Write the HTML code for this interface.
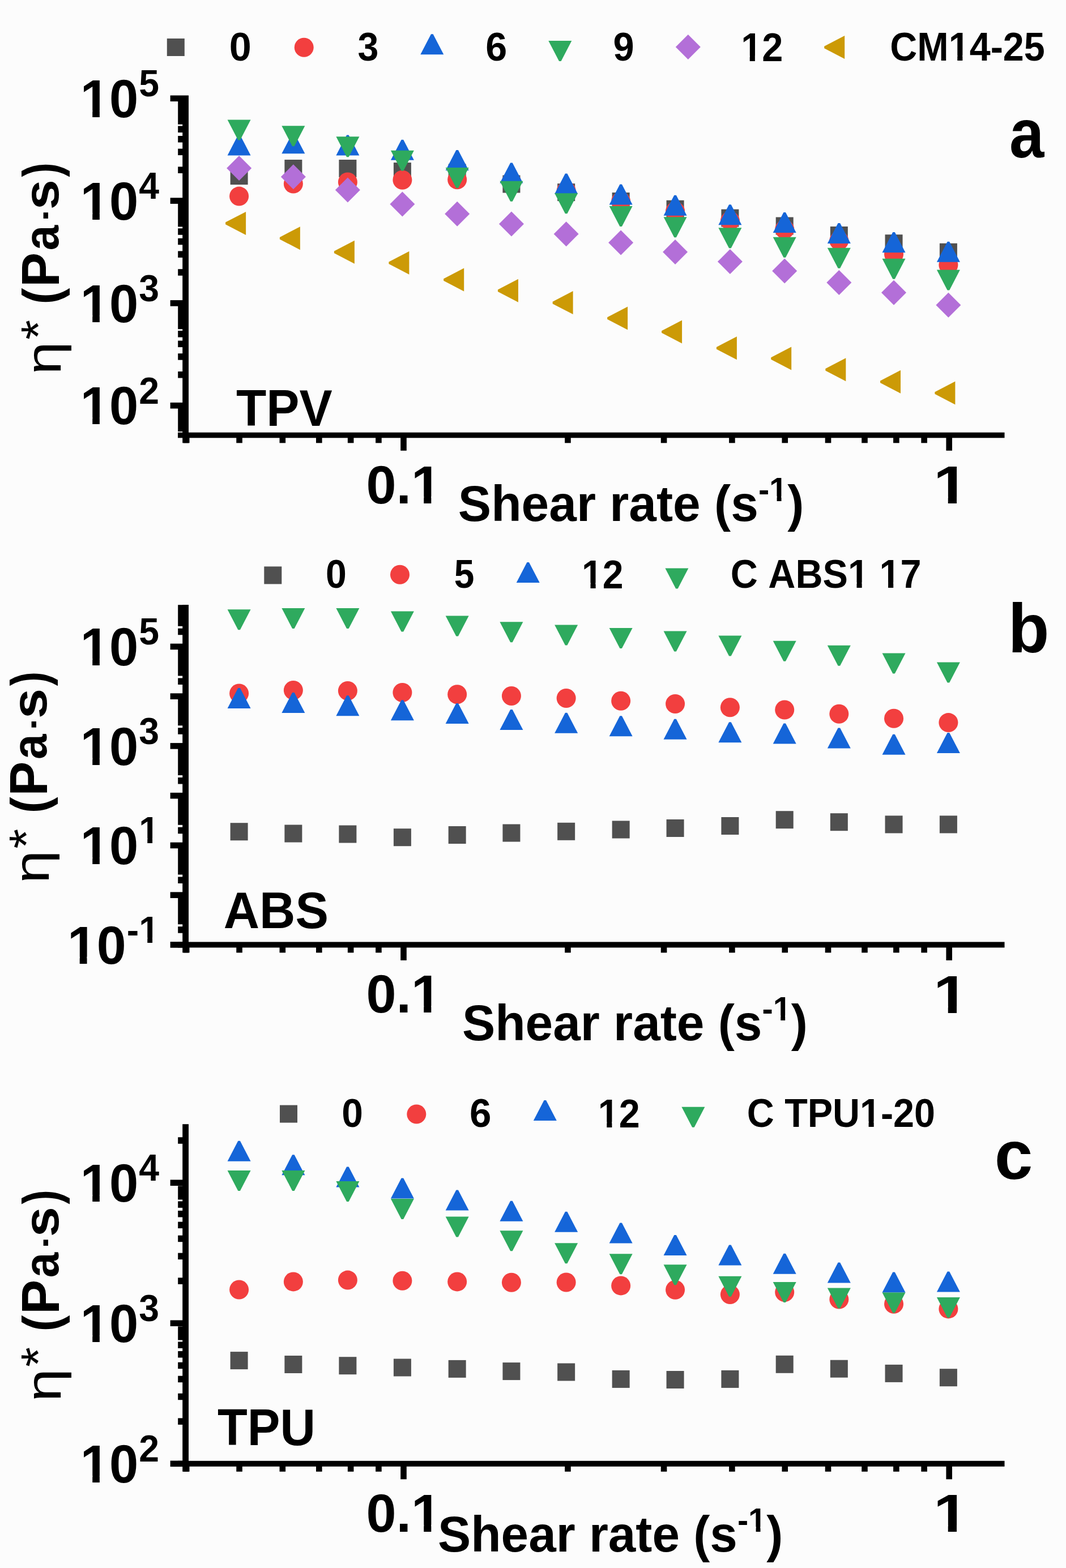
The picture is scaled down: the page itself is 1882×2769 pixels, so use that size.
<!DOCTYPE html>
<html><head><meta charset="utf-8"><title>Complex viscosity vs shear rate</title>
<style>
html,body{margin:0;padding:0;background:#fcfcfc;}
svg{display:block;}
text{font-family:"Liberation Sans",Arial,sans-serif;fill:#000;font-kerning:none;}
</style></head><body>
<svg width="1882" height="2769" viewBox="0 0 1882 2769">
<rect width="1882" height="2769" fill="#fcfcfc"/>
<rect x="294.80" y="68.00" width="31.00" height="31.00" fill="#505050"/>
<g transform="translate(404.82,107.32) scale(1.0105,1)"><text font-size="69.50" font-weight="bold">0</text></g>
<circle cx="536.70" cy="83.70" r="17" fill="#f23f3f"/>
<g transform="translate(631.48,107.22) scale(0.9552,1)"><text font-size="69.50" font-weight="bold">3</text></g>
<polygon points="761.00,60.30 764.60,60.30 783.30,96.30 742.30,96.30" fill="#1565d8"/>
<g transform="translate(857.20,107.32) scale(0.9823,1)"><text font-size="69.50" font-weight="bold">6</text></g>
<polygon points="990.60,108.00 987.00,108.00 968.30,72.00 1009.30,72.00" fill="#2eaa5e"/>
<g transform="translate(1082.59,107.32) scale(0.9595,1)"><text font-size="69.50" font-weight="bold">9</text></g>
<polygon points="1214.80,61.10 1236.80,83.10 1214.80,105.10 1192.80,83.10" fill="#b36fd8"/>
<g transform="translate(1308.14,108.00) scale(0.9603,1)"><text font-size="69.50" font-weight="bold">12</text><rect x="2.88" y="-9.59" width="13.34" height="11.09" fill="#fcfcfc"/><rect x="25.76" y="-9.59" width="12.46" height="11.09" fill="#fcfcfc"/></g>
<polygon points="1455.20,85.30 1455.20,81.70 1491.20,63.00 1491.20,104.00" fill="#cc9a06"/>
<g transform="translate(1571.27,107.32) scale(0.9571,1)"><text font-size="69.50" font-weight="bold">CM14-25</text><rect x="110.96" y="-9.59" width="13.34" height="11.09" fill="#fcfcfc"/><rect x="133.84" y="-9.59" width="12.46" height="11.09" fill="#fcfcfc"/></g>
<rect x="322.20" y="169.40" width="10.80" height="612.90" fill="#000"/>
<rect x="314.00" y="763.70" width="1459.50" height="9.60" fill="#000"/>
<rect x="300.60" y="710.90" width="32.40" height="10.60" fill="#000"/>
<rect x="300.60" y="530.10" width="32.40" height="10.60" fill="#000"/>
<rect x="300.60" y="349.30" width="32.40" height="10.60" fill="#000"/>
<rect x="300.60" y="168.50" width="32.40" height="10.60" fill="#000"/>
<rect x="314.20" y="176.32" width="18.80" height="43.34" fill="#000"/>
<rect x="314.20" y="222.48" width="18.80" height="11.50" fill="#000"/>
<rect x="314.20" y="240.00" width="18.80" height="11.50" fill="#000"/>
<rect x="314.20" y="262.59" width="18.80" height="11.50" fill="#000"/>
<rect x="314.20" y="294.42" width="18.80" height="11.50" fill="#000"/>
<rect x="314.20" y="357.12" width="18.80" height="43.34" fill="#000"/>
<rect x="314.20" y="403.28" width="18.80" height="11.50" fill="#000"/>
<rect x="314.20" y="420.80" width="18.80" height="11.50" fill="#000"/>
<rect x="314.20" y="443.39" width="18.80" height="11.50" fill="#000"/>
<rect x="314.20" y="475.22" width="18.80" height="11.50" fill="#000"/>
<rect x="314.20" y="537.92" width="18.80" height="43.34" fill="#000"/>
<rect x="314.20" y="584.08" width="18.80" height="11.50" fill="#000"/>
<rect x="314.20" y="601.60" width="18.80" height="11.50" fill="#000"/>
<rect x="314.20" y="624.19" width="18.80" height="11.50" fill="#000"/>
<rect x="314.20" y="656.02" width="18.80" height="11.50" fill="#000"/>
<rect x="314.20" y="718.72" width="18.80" height="43.34" fill="#000"/>
<rect x="323.90" y="772.30" width="10.60" height="10.00" fill="#000"/>
<rect x="417.25" y="772.30" width="10.60" height="10.00" fill="#000"/>
<rect x="493.52" y="772.30" width="10.60" height="10.00" fill="#000"/>
<rect x="558.00" y="772.30" width="10.60" height="10.00" fill="#000"/>
<rect x="613.86" y="772.30" width="10.60" height="10.00" fill="#000"/>
<rect x="663.13" y="772.30" width="10.60" height="10.00" fill="#000"/>
<rect x="997.15" y="772.30" width="10.60" height="10.00" fill="#000"/>
<rect x="1166.76" y="772.30" width="10.60" height="10.00" fill="#000"/>
<rect x="1287.10" y="772.30" width="10.60" height="10.00" fill="#000"/>
<rect x="1380.45" y="772.30" width="10.60" height="10.00" fill="#000"/>
<rect x="1456.72" y="772.30" width="10.60" height="10.00" fill="#000"/>
<rect x="1521.20" y="772.30" width="10.60" height="10.00" fill="#000"/>
<rect x="1577.06" y="772.30" width="10.60" height="10.00" fill="#000"/>
<rect x="1626.33" y="772.30" width="10.60" height="10.00" fill="#000"/>
<rect x="707.20" y="772.30" width="10.60" height="23.50" fill="#000"/>
<rect x="1670.40" y="772.30" width="10.60" height="23.50" fill="#000"/>
<g transform="translate(141.70,207.08) scale(0.9760,1)"><text font-size="94.50" font-weight="bold">10</text><rect x="4.45" y="-12.14" width="17.60" height="13.64" fill="#fcfcfc"/><rect x="35.02" y="-12.14" width="16.40" height="13.64" fill="#fcfcfc"/></g>
<g transform="translate(245.24,170.20) scale(0.9670,1)"><text font-size="66.50" font-weight="bold">5</text></g>
<g transform="translate(141.70,387.88) scale(0.9760,1)"><text font-size="94.50" font-weight="bold">10</text><rect x="4.45" y="-12.14" width="17.60" height="13.64" fill="#fcfcfc"/><rect x="35.02" y="-12.14" width="16.40" height="13.64" fill="#fcfcfc"/></g>
<g transform="translate(245.24,351.00) scale(0.9670,1)"><text font-size="66.50" font-weight="bold">4</text></g>
<g transform="translate(141.70,568.68) scale(0.9760,1)"><text font-size="94.50" font-weight="bold">10</text><rect x="4.45" y="-12.14" width="17.60" height="13.64" fill="#fcfcfc"/><rect x="35.02" y="-12.14" width="16.40" height="13.64" fill="#fcfcfc"/></g>
<g transform="translate(245.24,531.80) scale(0.9670,1)"><text font-size="66.50" font-weight="bold">3</text></g>
<g transform="translate(141.70,749.48) scale(0.9760,1)"><text font-size="94.50" font-weight="bold">10</text><rect x="4.45" y="-12.14" width="17.60" height="13.64" fill="#fcfcfc"/><rect x="35.02" y="-12.14" width="16.40" height="13.64" fill="#fcfcfc"/></g>
<g transform="translate(245.24,712.60) scale(0.9670,1)"><text font-size="66.50" font-weight="bold">2</text></g>
<text transform="translate(104.14,312.57) rotate(-90) scale(0.8423,1)" font-size="90.87" font-weight="bold">)</text>
<text transform="translate(103.15,370.35) rotate(-90) scale(1.1015,1)" font-size="86.63" font-weight="bold">s</text>
<text transform="translate(101.93,399.23) rotate(-90) scale(1.4544,1)" font-size="77.27" font-weight="normal">·</text>
<text transform="translate(103.15,442.35) rotate(-90) scale(0.9236,1)" font-size="86.70" font-weight="bold">a</text>
<text transform="translate(104.00,506.70) rotate(-90) scale(0.9592,1)" font-size="95.06" font-weight="bold">P</text>
<text transform="translate(104.21,537.61) rotate(-90) scale(0.9548,1)" font-size="90.55" font-weight="bold">(</text>
<text transform="translate(97.39,600.06) rotate(-90) scale(1.0575,1)" font-size="85.45" font-weight="normal">*</text>
<text transform="translate(107.65,661.42) rotate(-90) scale(1.1871,1)" font-size="88.17" font-weight="normal">η</text>
<g transform="translate(417.02,752.00) scale(0.9688,1)"><text font-size="90.00" font-weight="bold">TPV</text></g>
<g transform="translate(1781.97,278.41) scale(0.9039,1)"><text font-size="122.00" font-weight="bold">a</text></g>
<g transform="translate(646.43,888.78) scale(1.0091,1)"><text font-size="94.50" font-weight="bold">0.1</text><rect x="83.26" y="-12.14" width="17.60" height="13.64" fill="#fcfcfc"/><rect x="113.83" y="-12.14" width="16.40" height="13.64" fill="#fcfcfc"/></g>
<g transform="translate(1647.92,889.20) scale(1.1729,1)"><text font-size="94.50" font-weight="bold">1</text><rect x="4.45" y="-12.14" width="17.60" height="13.64" fill="#fcfcfc"/><rect x="35.02" y="-12.14" width="16.40" height="13.64" fill="#fcfcfc"/></g>
<g transform="translate(808.78,920.13) scale(0.9831,1)" font-weight="bold"><text font-size="89">Shear rate (s</text><text x="539.21" y="-35.60" font-size="58.74">-1</text><rect x="560.98" y="-44.09" width="11.51" height="9.99" fill="#fcfcfc"/><rect x="580.55" y="-44.09" width="10.76" height="9.99" fill="#fcfcfc"/><text x="591.44" font-size="89">)</text></g>
<rect x="406.60" y="295.10" width="31.00" height="31.00" fill="#505050"/>
<rect x="502.37" y="282.00" width="31.00" height="31.00" fill="#505050"/>
<rect x="598.38" y="282.00" width="31.00" height="31.00" fill="#505050"/>
<rect x="694.90" y="287.10" width="31.00" height="31.00" fill="#505050"/>
<rect x="791.66" y="289.50" width="31.00" height="31.00" fill="#505050"/>
<rect x="887.42" y="309.50" width="31.00" height="31.00" fill="#505050"/>
<rect x="984.14" y="324.10" width="31.00" height="31.00" fill="#505050"/>
<rect x="1080.65" y="340.00" width="31.00" height="31.00" fill="#505050"/>
<rect x="1176.57" y="353.70" width="31.00" height="31.00" fill="#505050"/>
<rect x="1273.39" y="369.60" width="31.00" height="31.00" fill="#505050"/>
<rect x="1369.70" y="383.50" width="31.00" height="31.00" fill="#505050"/>
<rect x="1465.82" y="400.00" width="31.00" height="31.00" fill="#505050"/>
<rect x="1562.53" y="414.20" width="31.00" height="31.00" fill="#505050"/>
<rect x="1658.89" y="429.70" width="31.00" height="31.00" fill="#505050"/>
<circle cx="422.10" cy="346.60" r="17" fill="#f23f3f"/>
<circle cx="517.87" cy="324.50" r="17" fill="#f23f3f"/>
<circle cx="613.88" cy="321.50" r="17" fill="#f23f3f"/>
<circle cx="710.40" cy="317.70" r="17" fill="#f23f3f"/>
<circle cx="807.16" cy="317.30" r="17" fill="#f23f3f"/>
<circle cx="902.92" cy="321.00" r="17" fill="#f23f3f"/>
<circle cx="999.64" cy="337.00" r="17" fill="#f23f3f"/>
<circle cx="1096.15" cy="355.50" r="17" fill="#f23f3f"/>
<circle cx="1192.07" cy="373.00" r="17" fill="#f23f3f"/>
<circle cx="1288.89" cy="390.00" r="17" fill="#f23f3f"/>
<circle cx="1385.20" cy="405.00" r="17" fill="#f23f3f"/>
<circle cx="1481.32" cy="425.00" r="17" fill="#f23f3f"/>
<circle cx="1578.03" cy="449.00" r="17" fill="#f23f3f"/>
<circle cx="1674.39" cy="468.00" r="17" fill="#f23f3f"/>
<polygon points="420.30,238.40 423.90,238.40 442.60,274.40 401.60,274.40" fill="#1565d8"/>
<polygon points="516.07,235.30 519.66,235.30 538.37,271.30 497.37,271.30" fill="#1565d8"/>
<polygon points="612.08,238.40 615.68,238.40 634.38,274.40 593.38,274.40" fill="#1565d8"/>
<polygon points="708.60,246.70 712.20,246.70 730.90,282.70 689.90,282.70" fill="#1565d8"/>
<polygon points="805.36,265.10 808.96,265.10 827.66,301.10 786.66,301.10" fill="#1565d8"/>
<polygon points="901.12,287.40 904.72,287.40 923.42,323.40 882.42,323.40" fill="#1565d8"/>
<polygon points="997.84,306.40 1001.44,306.40 1020.14,342.40 979.14,342.40" fill="#1565d8"/>
<polygon points="1094.36,325.50 1097.95,325.50 1116.65,361.50 1075.65,361.50" fill="#1565d8"/>
<polygon points="1190.27,344.70 1193.87,344.70 1212.57,380.70 1171.57,380.70" fill="#1565d8"/>
<polygon points="1287.09,361.20 1290.69,361.20 1309.39,397.20 1268.39,397.20" fill="#1565d8"/>
<polygon points="1383.40,375.10 1387.00,375.10 1405.70,411.10 1364.70,411.10" fill="#1565d8"/>
<polygon points="1479.52,393.90 1483.12,393.90 1501.82,429.90 1460.82,429.90" fill="#1565d8"/>
<polygon points="1576.23,410.10 1579.83,410.10 1598.53,446.10 1557.53,446.10" fill="#1565d8"/>
<polygon points="1672.60,426.70 1676.19,426.70 1694.89,462.70 1653.89,462.70" fill="#1565d8"/>
<polygon points="423.90,247.40 420.30,247.40 401.60,211.40 442.60,211.40" fill="#2eaa5e"/>
<polygon points="519.66,258.30 516.07,258.30 497.37,222.30 538.37,222.30" fill="#2eaa5e"/>
<polygon points="615.68,277.30 612.08,277.30 593.38,241.30 634.38,241.30" fill="#2eaa5e"/>
<polygon points="712.20,301.80 708.60,301.80 689.90,265.80 730.90,265.80" fill="#2eaa5e"/>
<polygon points="808.96,332.10 805.36,332.10 786.66,296.10 827.66,296.10" fill="#2eaa5e"/>
<polygon points="904.72,355.70 901.12,355.70 882.42,319.70 923.42,319.70" fill="#2eaa5e"/>
<polygon points="1001.44,377.20 997.84,377.20 979.14,341.20 1020.14,341.20" fill="#2eaa5e"/>
<polygon points="1097.95,400.00 1094.36,400.00 1075.65,364.00 1116.65,364.00" fill="#2eaa5e"/>
<polygon points="1193.87,419.30 1190.27,419.30 1171.57,383.30 1212.57,383.30" fill="#2eaa5e"/>
<polygon points="1290.69,438.30 1287.09,438.30 1268.39,402.30 1309.39,402.30" fill="#2eaa5e"/>
<polygon points="1387.00,454.80 1383.40,454.80 1364.70,418.80 1405.70,418.80" fill="#2eaa5e"/>
<polygon points="1483.12,473.80 1479.52,473.80 1460.82,437.80 1501.82,437.80" fill="#2eaa5e"/>
<polygon points="1579.83,492.80 1576.23,492.80 1557.53,456.80 1598.53,456.80" fill="#2eaa5e"/>
<polygon points="1676.19,512.60 1672.60,512.60 1653.89,476.60 1694.89,476.60" fill="#2eaa5e"/>
<polygon points="422.10,275.00 444.10,297.00 422.10,319.00 400.10,297.00" fill="#b36fd8"/>
<polygon points="517.87,290.30 539.87,312.30 517.87,334.30 495.87,312.30" fill="#b36fd8"/>
<polygon points="613.88,313.50 635.88,335.50 613.88,357.50 591.88,335.50" fill="#b36fd8"/>
<polygon points="710.40,338.40 732.40,360.40 710.40,382.40 688.40,360.40" fill="#b36fd8"/>
<polygon points="807.16,355.80 829.16,377.80 807.16,399.80 785.16,377.80" fill="#b36fd8"/>
<polygon points="902.92,373.40 924.92,395.40 902.92,417.40 880.92,395.40" fill="#b36fd8"/>
<polygon points="999.64,391.20 1021.64,413.20 999.64,435.20 977.64,413.20" fill="#b36fd8"/>
<polygon points="1096.15,406.40 1118.15,428.40 1096.15,450.40 1074.15,428.40" fill="#b36fd8"/>
<polygon points="1192.07,423.00 1214.07,445.00 1192.07,467.00 1170.07,445.00" fill="#b36fd8"/>
<polygon points="1288.89,440.00 1310.89,462.00 1288.89,484.00 1266.89,462.00" fill="#b36fd8"/>
<polygon points="1385.20,456.50 1407.20,478.50 1385.20,500.50 1363.20,478.50" fill="#b36fd8"/>
<polygon points="1481.32,477.00 1503.32,499.00 1481.32,521.00 1459.32,499.00" fill="#b36fd8"/>
<polygon points="1578.03,494.70 1600.03,516.70 1578.03,538.70 1556.03,516.70" fill="#b36fd8"/>
<polygon points="1674.39,516.70 1696.39,538.70 1674.39,560.70 1652.39,538.70" fill="#b36fd8"/>
<polygon points="398.10,396.20 398.10,392.60 434.10,373.90 434.10,414.90" fill="#cc9a06"/>
<polygon points="493.87,422.50 493.87,418.90 529.87,400.20 529.87,441.20" fill="#cc9a06"/>
<polygon points="589.88,447.00 589.88,443.40 625.88,424.70 625.88,465.70" fill="#cc9a06"/>
<polygon points="686.40,466.00 686.40,462.40 722.40,443.70 722.40,484.70" fill="#cc9a06"/>
<polygon points="783.16,495.80 783.16,492.20 819.16,473.50 819.16,514.50" fill="#cc9a06"/>
<polygon points="878.92,515.10 878.92,511.50 914.92,492.80 914.92,533.80" fill="#cc9a06"/>
<polygon points="975.64,536.40 975.64,532.80 1011.64,514.10 1011.64,555.10" fill="#cc9a06"/>
<polygon points="1072.15,563.80 1072.15,560.20 1108.15,541.50 1108.15,582.50" fill="#cc9a06"/>
<polygon points="1168.07,587.80 1168.07,584.20 1204.07,565.50 1204.07,606.50" fill="#cc9a06"/>
<polygon points="1264.89,616.50 1264.89,612.90 1300.89,594.20 1300.89,635.20" fill="#cc9a06"/>
<polygon points="1361.20,634.80 1361.20,631.20 1397.20,612.50 1397.20,653.50" fill="#cc9a06"/>
<polygon points="1457.32,654.60 1457.32,651.00 1493.32,632.30 1493.32,673.30" fill="#cc9a06"/>
<polygon points="1554.03,676.10 1554.03,672.50 1590.03,653.80 1590.03,694.80" fill="#cc9a06"/>
<polygon points="1650.39,695.80 1650.39,692.20 1686.39,673.50 1686.39,714.50" fill="#cc9a06"/>
<rect x="466.30" y="1000.40" width="31.00" height="31.00" fill="#505050"/>
<g transform="translate(574.88,1038.02) scale(0.9530,1)"><text font-size="69.50" font-weight="bold">0</text></g>
<circle cx="706.00" cy="1014.80" r="17" fill="#f23f3f"/>
<g transform="translate(801.83,1038.02) scale(0.9225,1)"><text font-size="69.50" font-weight="bold">5</text></g>
<polygon points="930.40,993.00 934.00,993.00 952.70,1029.00 911.70,1029.00" fill="#1565d8"/>
<g transform="translate(1027.08,1038.70) scale(0.9517,1)"><text font-size="69.50" font-weight="bold">12</text><rect x="2.88" y="-9.59" width="13.34" height="11.09" fill="#fcfcfc"/><rect x="25.76" y="-9.59" width="12.46" height="11.09" fill="#fcfcfc"/></g>
<polygon points="1196.70,1039.40 1193.10,1039.40 1174.40,1003.40 1215.40,1003.40" fill="#2eaa5e"/>
<g transform="translate(1289.67,1038.02) scale(0.9586,1)"><text font-size="69.50" font-weight="bold">C ABS1 17</text><rect x="219.11" y="-9.59" width="13.34" height="11.09" fill="#fcfcfc"/><rect x="241.99" y="-9.59" width="12.46" height="11.09" fill="#fcfcfc"/><rect x="277.08" y="-9.59" width="13.34" height="11.09" fill="#fcfcfc"/><rect x="299.96" y="-9.59" width="12.46" height="11.09" fill="#fcfcfc"/></g>
<rect x="322.20" y="1068.20" width="10.80" height="614.20" fill="#000"/>
<rect x="314.00" y="1663.40" width="1459.50" height="10.00" fill="#000"/>
<rect x="300.60" y="1663.10" width="32.40" height="10.60" fill="#000"/>
<rect x="300.60" y="1575.35" width="32.40" height="10.60" fill="#000"/>
<rect x="300.60" y="1487.60" width="32.40" height="10.60" fill="#000"/>
<rect x="300.60" y="1399.85" width="32.40" height="10.60" fill="#000"/>
<rect x="300.60" y="1312.10" width="32.40" height="10.60" fill="#000"/>
<rect x="300.60" y="1224.35" width="32.40" height="10.60" fill="#000"/>
<rect x="300.60" y="1136.60" width="32.40" height="10.60" fill="#000"/>
<rect x="314.20" y="1068.20" width="18.80" height="37.58" fill="#000"/>
<rect x="314.20" y="1109.73" width="18.80" height="11.50" fill="#000"/>
<rect x="314.20" y="1140.17" width="18.80" height="53.37" fill="#000"/>
<rect x="314.20" y="1197.48" width="18.80" height="11.50" fill="#000"/>
<rect x="314.20" y="1227.92" width="18.80" height="53.37" fill="#000"/>
<rect x="314.20" y="1285.23" width="18.80" height="11.50" fill="#000"/>
<rect x="314.20" y="1315.67" width="18.80" height="53.37" fill="#000"/>
<rect x="314.20" y="1372.98" width="18.80" height="11.50" fill="#000"/>
<rect x="314.20" y="1403.42" width="18.80" height="53.37" fill="#000"/>
<rect x="314.20" y="1460.73" width="18.80" height="11.50" fill="#000"/>
<rect x="314.20" y="1491.17" width="18.80" height="53.37" fill="#000"/>
<rect x="314.20" y="1548.48" width="18.80" height="11.50" fill="#000"/>
<rect x="314.20" y="1578.92" width="18.80" height="53.37" fill="#000"/>
<rect x="314.20" y="1636.23" width="18.80" height="11.50" fill="#000"/>
<rect x="323.90" y="1672.40" width="10.60" height="10.00" fill="#000"/>
<rect x="417.25" y="1672.40" width="10.60" height="10.00" fill="#000"/>
<rect x="493.52" y="1672.40" width="10.60" height="10.00" fill="#000"/>
<rect x="558.00" y="1672.40" width="10.60" height="10.00" fill="#000"/>
<rect x="613.86" y="1672.40" width="10.60" height="10.00" fill="#000"/>
<rect x="663.13" y="1672.40" width="10.60" height="10.00" fill="#000"/>
<rect x="997.15" y="1672.40" width="10.60" height="10.00" fill="#000"/>
<rect x="1166.76" y="1672.40" width="10.60" height="10.00" fill="#000"/>
<rect x="1287.10" y="1672.40" width="10.60" height="10.00" fill="#000"/>
<rect x="1380.45" y="1672.40" width="10.60" height="10.00" fill="#000"/>
<rect x="1456.72" y="1672.40" width="10.60" height="10.00" fill="#000"/>
<rect x="1521.20" y="1672.40" width="10.60" height="10.00" fill="#000"/>
<rect x="1577.06" y="1672.40" width="10.60" height="10.00" fill="#000"/>
<rect x="1626.33" y="1672.40" width="10.60" height="10.00" fill="#000"/>
<rect x="707.20" y="1672.40" width="10.60" height="23.50" fill="#000"/>
<rect x="1670.40" y="1672.40" width="10.60" height="23.50" fill="#000"/>
<g transform="translate(141.70,1175.18) scale(0.9760,1)"><text font-size="94.50" font-weight="bold">10</text><rect x="4.45" y="-12.14" width="17.60" height="13.64" fill="#fcfcfc"/><rect x="35.02" y="-12.14" width="16.40" height="13.64" fill="#fcfcfc"/></g>
<g transform="translate(245.24,1138.30) scale(0.9670,1)"><text font-size="66.50" font-weight="bold">5</text></g>
<g transform="translate(141.70,1350.68) scale(0.9760,1)"><text font-size="94.50" font-weight="bold">10</text><rect x="4.45" y="-12.14" width="17.60" height="13.64" fill="#fcfcfc"/><rect x="35.02" y="-12.14" width="16.40" height="13.64" fill="#fcfcfc"/></g>
<g transform="translate(245.24,1313.80) scale(0.9670,1)"><text font-size="66.50" font-weight="bold">3</text></g>
<g transform="translate(141.70,1526.18) scale(0.9760,1)"><text font-size="94.50" font-weight="bold">10</text><rect x="4.45" y="-12.14" width="17.60" height="13.64" fill="#fcfcfc"/><rect x="35.02" y="-12.14" width="16.40" height="13.64" fill="#fcfcfc"/></g>
<g transform="translate(245.24,1489.30) scale(0.9670,1)"><text font-size="66.50" font-weight="bold">1</text><rect x="2.69" y="-9.29" width="12.83" height="10.79" fill="#fcfcfc"/><rect x="24.65" y="-9.29" width="11.99" height="10.79" fill="#fcfcfc"/></g>
<g transform="translate(118.91,1701.68) scale(0.9886,1)"><text font-size="94.50" font-weight="bold">10</text><rect x="4.45" y="-12.14" width="17.60" height="13.64" fill="#fcfcfc"/><rect x="35.02" y="-12.14" width="16.40" height="13.64" fill="#fcfcfc"/></g>
<g transform="translate(223.82,1664.80) scale(0.9670,1)"><text font-size="66.50" font-weight="bold">-1</text><rect x="24.83" y="-9.29" width="12.83" height="10.79" fill="#fcfcfc"/><rect x="46.79" y="-9.29" width="11.99" height="10.79" fill="#fcfcfc"/></g>
<text transform="translate(83.14,1211.27) rotate(-90) scale(0.8423,1)" font-size="90.87" font-weight="bold">)</text>
<text transform="translate(82.15,1269.05) rotate(-90) scale(1.1015,1)" font-size="86.63" font-weight="bold">s</text>
<text transform="translate(80.93,1297.93) rotate(-90) scale(1.4544,1)" font-size="77.27" font-weight="normal">·</text>
<text transform="translate(82.15,1341.05) rotate(-90) scale(0.9236,1)" font-size="86.70" font-weight="bold">a</text>
<text transform="translate(83.00,1405.40) rotate(-90) scale(0.9592,1)" font-size="95.06" font-weight="bold">P</text>
<text transform="translate(83.21,1436.31) rotate(-90) scale(0.9548,1)" font-size="90.55" font-weight="bold">(</text>
<text transform="translate(76.39,1498.76) rotate(-90) scale(1.0575,1)" font-size="85.45" font-weight="normal">*</text>
<text transform="translate(86.65,1560.12) rotate(-90) scale(1.1871,1)" font-size="88.17" font-weight="normal">η</text>
<g transform="translate(394.72,1639.01) scale(0.9640,1)"><text font-size="91.00" font-weight="bold">ABS</text></g>
<g transform="translate(1779.76,1151.71) scale(0.9744,1)"><text font-size="122.00" font-weight="bold">b</text></g>
<g transform="translate(646.43,1788.48) scale(1.0091,1)"><text font-size="94.50" font-weight="bold">0.1</text><rect x="83.26" y="-12.14" width="17.60" height="13.64" fill="#fcfcfc"/><rect x="113.83" y="-12.14" width="16.40" height="13.64" fill="#fcfcfc"/></g>
<g transform="translate(1647.92,1788.90) scale(1.1729,1)"><text font-size="94.50" font-weight="bold">1</text><rect x="4.45" y="-12.14" width="17.60" height="13.64" fill="#fcfcfc"/><rect x="35.02" y="-12.14" width="16.40" height="13.64" fill="#fcfcfc"/></g>
<g transform="translate(815.88,1837.13) scale(0.9823,1)" font-weight="bold"><text font-size="89">Shear rate (s</text><text x="539.21" y="-35.60" font-size="58.74">-1</text><rect x="560.98" y="-44.09" width="11.51" height="9.99" fill="#fcfcfc"/><rect x="580.55" y="-44.09" width="10.76" height="9.99" fill="#fcfcfc"/><text x="591.44" font-size="89">)</text></g>
<rect x="406.60" y="1453.20" width="31.00" height="31.00" fill="#505050"/>
<rect x="502.37" y="1456.50" width="31.00" height="31.00" fill="#505050"/>
<rect x="598.38" y="1457.50" width="31.00" height="31.00" fill="#505050"/>
<rect x="694.90" y="1463.20" width="31.00" height="31.00" fill="#505050"/>
<rect x="791.66" y="1459.00" width="31.00" height="31.00" fill="#505050"/>
<rect x="887.42" y="1455.50" width="31.00" height="31.00" fill="#505050"/>
<rect x="984.14" y="1452.80" width="31.00" height="31.00" fill="#505050"/>
<rect x="1080.65" y="1449.50" width="31.00" height="31.00" fill="#505050"/>
<rect x="1176.57" y="1447.00" width="31.00" height="31.00" fill="#505050"/>
<rect x="1273.39" y="1443.00" width="31.00" height="31.00" fill="#505050"/>
<rect x="1369.70" y="1432.20" width="31.00" height="31.00" fill="#505050"/>
<rect x="1465.82" y="1436.20" width="31.00" height="31.00" fill="#505050"/>
<rect x="1562.53" y="1440.40" width="31.00" height="31.00" fill="#505050"/>
<rect x="1658.89" y="1440.40" width="31.00" height="31.00" fill="#505050"/>
<circle cx="422.10" cy="1224.50" r="17" fill="#f23f3f"/>
<circle cx="517.87" cy="1219.00" r="17" fill="#f23f3f"/>
<circle cx="613.88" cy="1220.00" r="17" fill="#f23f3f"/>
<circle cx="710.40" cy="1223.00" r="17" fill="#f23f3f"/>
<circle cx="807.16" cy="1226.20" r="17" fill="#f23f3f"/>
<circle cx="902.92" cy="1229.00" r="17" fill="#f23f3f"/>
<circle cx="999.64" cy="1233.00" r="17" fill="#f23f3f"/>
<circle cx="1096.15" cy="1237.70" r="17" fill="#f23f3f"/>
<circle cx="1192.07" cy="1243.00" r="17" fill="#f23f3f"/>
<circle cx="1288.89" cy="1249.30" r="17" fill="#f23f3f"/>
<circle cx="1385.20" cy="1253.50" r="17" fill="#f23f3f"/>
<circle cx="1481.32" cy="1260.80" r="17" fill="#f23f3f"/>
<circle cx="1578.03" cy="1268.80" r="17" fill="#f23f3f"/>
<circle cx="1674.39" cy="1276.10" r="17" fill="#f23f3f"/>
<polygon points="420.30,1215.00 423.90,1215.00 442.60,1251.00 401.60,1251.00" fill="#1565d8"/>
<polygon points="516.07,1222.90 519.66,1222.90 538.37,1258.90 497.37,1258.90" fill="#1565d8"/>
<polygon points="612.08,1228.30 615.68,1228.30 634.38,1264.30 593.38,1264.30" fill="#1565d8"/>
<polygon points="708.60,1236.20 712.20,1236.20 730.90,1272.20 689.90,1272.20" fill="#1565d8"/>
<polygon points="805.36,1241.90 808.96,1241.90 827.66,1277.90 786.66,1277.90" fill="#1565d8"/>
<polygon points="901.12,1253.10 904.72,1253.10 923.42,1289.10 882.42,1289.10" fill="#1565d8"/>
<polygon points="997.84,1258.80 1001.44,1258.80 1020.14,1294.80 979.14,1294.80" fill="#1565d8"/>
<polygon points="1094.36,1264.20 1097.95,1264.20 1116.65,1300.20 1075.65,1300.20" fill="#1565d8"/>
<polygon points="1190.27,1269.80 1193.87,1269.80 1212.57,1305.80 1171.57,1305.80" fill="#1565d8"/>
<polygon points="1287.09,1275.20 1290.69,1275.20 1309.39,1311.20 1268.39,1311.20" fill="#1565d8"/>
<polygon points="1383.40,1277.60 1387.00,1277.60 1405.70,1313.60 1364.70,1313.60" fill="#1565d8"/>
<polygon points="1479.52,1285.60 1483.12,1285.60 1501.82,1321.60 1460.82,1321.60" fill="#1565d8"/>
<polygon points="1576.23,1296.80 1579.83,1296.80 1598.53,1332.80 1557.53,1332.80" fill="#1565d8"/>
<polygon points="1672.60,1294.10 1676.19,1294.10 1694.89,1330.10 1653.89,1330.10" fill="#1565d8"/>
<polygon points="423.90,1112.30 420.30,1112.30 401.60,1076.30 442.60,1076.30" fill="#2eaa5e"/>
<polygon points="519.66,1110.00 516.07,1110.00 497.37,1074.00 538.37,1074.00" fill="#2eaa5e"/>
<polygon points="615.68,1110.00 612.08,1110.00 593.38,1074.00 634.38,1074.00" fill="#2eaa5e"/>
<polygon points="712.20,1115.40 708.60,1115.40 689.90,1079.40 730.90,1079.40" fill="#2eaa5e"/>
<polygon points="808.96,1123.60 805.36,1123.60 786.66,1087.60 827.66,1087.60" fill="#2eaa5e"/>
<polygon points="904.72,1134.20 901.12,1134.20 882.42,1098.20 923.42,1098.20" fill="#2eaa5e"/>
<polygon points="1001.44,1139.50 997.84,1139.50 979.14,1103.50 1020.14,1103.50" fill="#2eaa5e"/>
<polygon points="1097.95,1144.90 1094.36,1144.90 1075.65,1108.90 1116.65,1108.90" fill="#2eaa5e"/>
<polygon points="1193.87,1150.60 1190.27,1150.60 1171.57,1114.60 1212.57,1114.60" fill="#2eaa5e"/>
<polygon points="1290.69,1158.50 1287.09,1158.50 1268.39,1122.50 1309.39,1122.50" fill="#2eaa5e"/>
<polygon points="1387.00,1167.70 1383.40,1167.70 1364.70,1131.70 1405.70,1131.70" fill="#2eaa5e"/>
<polygon points="1483.12,1175.70 1479.52,1175.70 1460.82,1139.70 1501.82,1139.70" fill="#2eaa5e"/>
<polygon points="1579.83,1189.50 1576.23,1189.50 1557.53,1153.50 1598.53,1153.50" fill="#2eaa5e"/>
<polygon points="1676.19,1205.40 1672.60,1205.40 1653.89,1169.40 1694.89,1169.40" fill="#2eaa5e"/>
<rect x="494.00" y="1951.60" width="31.00" height="31.00" fill="#505050"/>
<g transform="translate(603.32,1989.92) scale(0.9742,1)"><text font-size="69.50" font-weight="bold">0</text></g>
<circle cx="735.30" cy="1967.50" r="17" fill="#f23f3f"/>
<g transform="translate(829.07,1989.92) scale(0.9942,1)"><text font-size="69.50" font-weight="bold">6</text></g>
<polygon points="960.50,1943.00 964.10,1943.00 982.80,1979.00 941.80,1979.00" fill="#1565d8"/>
<g transform="translate(1055.76,1990.60) scale(0.9560,1)"><text font-size="69.50" font-weight="bold">12</text><rect x="2.88" y="-9.59" width="13.34" height="11.09" fill="#fcfcfc"/><rect x="25.76" y="-9.59" width="12.46" height="11.09" fill="#fcfcfc"/></g>
<polygon points="1225.70,1990.70 1222.10,1990.70 1203.40,1954.70 1244.40,1954.70" fill="#2eaa5e"/>
<g transform="translate(1318.78,1989.92) scale(0.9558,1)"><text font-size="69.50" font-weight="bold">C TPU1-20</text><rect x="211.38" y="-9.59" width="13.34" height="11.09" fill="#fcfcfc"/><rect x="234.26" y="-9.59" width="12.46" height="11.09" fill="#fcfcfc"/></g>
<rect x="322.20" y="1985.20" width="10.80" height="613.60" fill="#000"/>
<rect x="314.00" y="2579.80" width="1459.50" height="10.00" fill="#000"/>
<rect x="300.60" y="2579.50" width="32.40" height="10.60" fill="#000"/>
<rect x="300.60" y="2331.45" width="32.40" height="10.60" fill="#000"/>
<rect x="300.60" y="2083.40" width="32.40" height="10.60" fill="#000"/>
<rect x="314.20" y="2008.28" width="18.80" height="11.50" fill="#000"/>
<rect x="314.20" y="2094.30" width="18.80" height="24.19" fill="#000"/>
<rect x="314.20" y="2121.37" width="18.80" height="11.50" fill="#000"/>
<rect x="314.20" y="2137.98" width="18.80" height="11.50" fill="#000"/>
<rect x="314.20" y="2157.62" width="18.80" height="11.50" fill="#000"/>
<rect x="314.20" y="2181.66" width="18.80" height="11.50" fill="#000"/>
<rect x="314.20" y="2212.65" width="18.80" height="11.50" fill="#000"/>
<rect x="314.20" y="2256.33" width="18.80" height="11.50" fill="#000"/>
<rect x="314.20" y="2342.35" width="18.80" height="24.19" fill="#000"/>
<rect x="314.20" y="2369.42" width="18.80" height="11.50" fill="#000"/>
<rect x="314.20" y="2386.03" width="18.80" height="11.50" fill="#000"/>
<rect x="314.20" y="2405.67" width="18.80" height="11.50" fill="#000"/>
<rect x="314.20" y="2429.71" width="18.80" height="11.50" fill="#000"/>
<rect x="314.20" y="2460.70" width="18.80" height="11.50" fill="#000"/>
<rect x="314.20" y="2504.38" width="18.80" height="11.50" fill="#000"/>
<rect x="323.90" y="2588.80" width="10.60" height="10.00" fill="#000"/>
<rect x="417.25" y="2588.80" width="10.60" height="10.00" fill="#000"/>
<rect x="493.52" y="2588.80" width="10.60" height="10.00" fill="#000"/>
<rect x="558.00" y="2588.80" width="10.60" height="10.00" fill="#000"/>
<rect x="613.86" y="2588.80" width="10.60" height="10.00" fill="#000"/>
<rect x="663.13" y="2588.80" width="10.60" height="10.00" fill="#000"/>
<rect x="997.15" y="2588.80" width="10.60" height="10.00" fill="#000"/>
<rect x="1166.76" y="2588.80" width="10.60" height="10.00" fill="#000"/>
<rect x="1287.10" y="2588.80" width="10.60" height="10.00" fill="#000"/>
<rect x="1380.45" y="2588.80" width="10.60" height="10.00" fill="#000"/>
<rect x="1456.72" y="2588.80" width="10.60" height="10.00" fill="#000"/>
<rect x="1521.20" y="2588.80" width="10.60" height="10.00" fill="#000"/>
<rect x="1577.06" y="2588.80" width="10.60" height="10.00" fill="#000"/>
<rect x="1626.33" y="2588.80" width="10.60" height="10.00" fill="#000"/>
<rect x="707.20" y="2588.80" width="10.60" height="23.50" fill="#000"/>
<rect x="1670.40" y="2588.80" width="10.60" height="23.50" fill="#000"/>
<g transform="translate(141.70,2121.98) scale(0.9760,1)"><text font-size="94.50" font-weight="bold">10</text><rect x="4.45" y="-12.14" width="17.60" height="13.64" fill="#fcfcfc"/><rect x="35.02" y="-12.14" width="16.40" height="13.64" fill="#fcfcfc"/></g>
<g transform="translate(245.24,2085.10) scale(0.9670,1)"><text font-size="66.50" font-weight="bold">4</text></g>
<g transform="translate(141.70,2370.03) scale(0.9760,1)"><text font-size="94.50" font-weight="bold">10</text><rect x="4.45" y="-12.14" width="17.60" height="13.64" fill="#fcfcfc"/><rect x="35.02" y="-12.14" width="16.40" height="13.64" fill="#fcfcfc"/></g>
<g transform="translate(245.24,2333.15) scale(0.9670,1)"><text font-size="66.50" font-weight="bold">3</text></g>
<g transform="translate(141.70,2618.08) scale(0.9760,1)"><text font-size="94.50" font-weight="bold">10</text><rect x="4.45" y="-12.14" width="17.60" height="13.64" fill="#fcfcfc"/><rect x="35.02" y="-12.14" width="16.40" height="13.64" fill="#fcfcfc"/></g>
<g transform="translate(245.24,2581.20) scale(0.9670,1)"><text font-size="66.50" font-weight="bold">2</text></g>
<text transform="translate(104.14,2126.52) rotate(-90) scale(0.8423,1)" font-size="90.87" font-weight="bold">)</text>
<text transform="translate(103.15,2184.30) rotate(-90) scale(1.1015,1)" font-size="86.63" font-weight="bold">s</text>
<text transform="translate(101.93,2213.18) rotate(-90) scale(1.4544,1)" font-size="77.27" font-weight="normal">·</text>
<text transform="translate(103.15,2256.30) rotate(-90) scale(0.9236,1)" font-size="86.70" font-weight="bold">a</text>
<text transform="translate(104.00,2320.65) rotate(-90) scale(0.9592,1)" font-size="95.06" font-weight="bold">P</text>
<text transform="translate(104.21,2351.56) rotate(-90) scale(0.9548,1)" font-size="90.55" font-weight="bold">(</text>
<text transform="translate(97.39,2414.01) rotate(-90) scale(1.0575,1)" font-size="85.45" font-weight="normal">*</text>
<text transform="translate(107.65,2475.37) rotate(-90) scale(1.1871,1)" font-size="88.17" font-weight="normal">η</text>
<g transform="translate(384.03,2551.72) scale(0.9608,1)"><text font-size="90.00" font-weight="bold">TPU</text></g>
<g transform="translate(1755.75,2081.81) scale(0.9965,1)"><text font-size="122.00" font-weight="bold">c</text></g>
<g transform="translate(646.43,2704.88) scale(1.0091,1)"><text font-size="94.50" font-weight="bold">0.1</text><rect x="83.26" y="-12.14" width="17.60" height="13.64" fill="#fcfcfc"/><rect x="113.83" y="-12.14" width="16.40" height="13.64" fill="#fcfcfc"/></g>
<g transform="translate(1647.92,2705.30) scale(1.1729,1)"><text font-size="94.50" font-weight="bold">1</text><rect x="4.45" y="-12.14" width="17.60" height="13.64" fill="#fcfcfc"/><rect x="35.02" y="-12.14" width="16.40" height="13.64" fill="#fcfcfc"/></g>
<g transform="translate(773.09,2740.13) scale(0.9808,1)" font-weight="bold"><text font-size="89">Shear rate (s</text><text x="539.21" y="-35.60" font-size="58.74">-1</text><rect x="560.98" y="-44.09" width="11.51" height="9.99" fill="#fcfcfc"/><rect x="580.55" y="-44.09" width="10.76" height="9.99" fill="#fcfcfc"/><text x="591.44" font-size="89">)</text></g>
<rect x="406.60" y="2387.10" width="31.00" height="31.00" fill="#505050"/>
<rect x="502.37" y="2394.00" width="31.00" height="31.00" fill="#505050"/>
<rect x="598.38" y="2396.20" width="31.00" height="31.00" fill="#505050"/>
<rect x="694.90" y="2399.50" width="31.00" height="31.00" fill="#505050"/>
<rect x="791.66" y="2401.90" width="31.00" height="31.00" fill="#505050"/>
<rect x="887.42" y="2406.10" width="31.00" height="31.00" fill="#505050"/>
<rect x="984.14" y="2407.50" width="31.00" height="31.00" fill="#505050"/>
<rect x="1080.65" y="2419.90" width="31.00" height="31.00" fill="#505050"/>
<rect x="1176.57" y="2421.00" width="31.00" height="31.00" fill="#505050"/>
<rect x="1273.39" y="2419.90" width="31.00" height="31.00" fill="#505050"/>
<rect x="1369.70" y="2393.80" width="31.00" height="31.00" fill="#505050"/>
<rect x="1465.82" y="2401.70" width="31.00" height="31.00" fill="#505050"/>
<rect x="1562.53" y="2409.90" width="31.00" height="31.00" fill="#505050"/>
<rect x="1658.89" y="2417.20" width="31.00" height="31.00" fill="#505050"/>
<circle cx="422.10" cy="2277.50" r="17" fill="#f23f3f"/>
<circle cx="517.87" cy="2263.40" r="17" fill="#f23f3f"/>
<circle cx="613.88" cy="2260.60" r="17" fill="#f23f3f"/>
<circle cx="710.40" cy="2261.70" r="17" fill="#f23f3f"/>
<circle cx="807.16" cy="2263.40" r="17" fill="#f23f3f"/>
<circle cx="902.92" cy="2264.80" r="17" fill="#f23f3f"/>
<circle cx="999.64" cy="2264.50" r="17" fill="#f23f3f"/>
<circle cx="1096.15" cy="2270.40" r="17" fill="#f23f3f"/>
<circle cx="1192.07" cy="2277.80" r="17" fill="#f23f3f"/>
<circle cx="1288.89" cy="2286.00" r="17" fill="#f23f3f"/>
<circle cx="1385.20" cy="2282.00" r="17" fill="#f23f3f"/>
<circle cx="1481.32" cy="2294.60" r="17" fill="#f23f3f"/>
<circle cx="1578.03" cy="2302.80" r="17" fill="#f23f3f"/>
<circle cx="1674.39" cy="2311.40" r="17" fill="#f23f3f"/>
<polygon points="420.30,2014.80 423.90,2014.80 442.60,2050.80 401.60,2050.80" fill="#1565d8"/>
<polygon points="516.07,2039.30 519.66,2039.30 538.37,2075.30 497.37,2075.30" fill="#1565d8"/>
<polygon points="612.08,2060.50 615.68,2060.50 634.38,2096.50 593.38,2096.50" fill="#1565d8"/>
<polygon points="708.60,2080.40 712.20,2080.40 730.90,2116.40 689.90,2116.40" fill="#1565d8"/>
<polygon points="805.36,2101.60 808.96,2101.60 827.66,2137.60 786.66,2137.60" fill="#1565d8"/>
<polygon points="901.12,2120.80 904.72,2120.80 923.42,2156.80 882.42,2156.80" fill="#1565d8"/>
<polygon points="997.84,2139.80 1001.44,2139.80 1020.14,2175.80 979.14,2175.80" fill="#1565d8"/>
<polygon points="1094.36,2159.40 1097.95,2159.40 1116.65,2195.40 1075.65,2195.40" fill="#1565d8"/>
<polygon points="1190.27,2181.00 1193.87,2181.00 1212.57,2217.00 1171.57,2217.00" fill="#1565d8"/>
<polygon points="1287.09,2198.40 1290.69,2198.40 1309.39,2234.40 1268.39,2234.40" fill="#1565d8"/>
<polygon points="1383.40,2213.70 1387.00,2213.70 1405.70,2249.70 1364.70,2249.70" fill="#1565d8"/>
<polygon points="1479.52,2229.60 1483.12,2229.60 1501.82,2265.60 1460.82,2265.60" fill="#1565d8"/>
<polygon points="1576.23,2246.50 1579.83,2246.50 1598.53,2282.50 1557.53,2282.50" fill="#1565d8"/>
<polygon points="1672.60,2245.50 1676.19,2245.50 1694.89,2281.50 1653.89,2281.50" fill="#1565d8"/>
<polygon points="423.90,2102.90 420.30,2102.90 401.60,2066.90 442.60,2066.90" fill="#2eaa5e"/>
<polygon points="519.66,2102.90 516.07,2102.90 497.37,2066.90 538.37,2066.90" fill="#2eaa5e"/>
<polygon points="615.68,2121.90 612.08,2121.90 593.38,2085.90 634.38,2085.90" fill="#2eaa5e"/>
<polygon points="712.20,2152.90 708.60,2152.90 689.90,2116.90 730.90,2116.90" fill="#2eaa5e"/>
<polygon points="808.96,2184.50 805.36,2184.50 786.66,2148.50 827.66,2148.50" fill="#2eaa5e"/>
<polygon points="904.72,2209.20 901.12,2209.20 882.42,2173.20 923.42,2173.20" fill="#2eaa5e"/>
<polygon points="1001.44,2231.30 997.84,2231.30 979.14,2195.30 1020.14,2195.30" fill="#2eaa5e"/>
<polygon points="1097.95,2250.30 1094.36,2250.30 1075.65,2214.30 1116.65,2214.30" fill="#2eaa5e"/>
<polygon points="1193.87,2269.30 1190.27,2269.30 1171.57,2233.30 1212.57,2233.30" fill="#2eaa5e"/>
<polygon points="1290.69,2289.80 1287.09,2289.80 1268.39,2253.80 1309.39,2253.80" fill="#2eaa5e"/>
<polygon points="1387.00,2300.00 1383.40,2300.00 1364.70,2264.00 1405.70,2264.00" fill="#2eaa5e"/>
<polygon points="1483.12,2310.50 1479.52,2310.50 1460.82,2274.50 1501.82,2274.50" fill="#2eaa5e"/>
<polygon points="1579.83,2318.50 1576.23,2318.50 1557.53,2282.50 1598.53,2282.50" fill="#2eaa5e"/>
<polygon points="1676.19,2327.00 1672.60,2327.00 1653.89,2291.00 1694.89,2291.00" fill="#2eaa5e"/>
</svg>
</body></html>
